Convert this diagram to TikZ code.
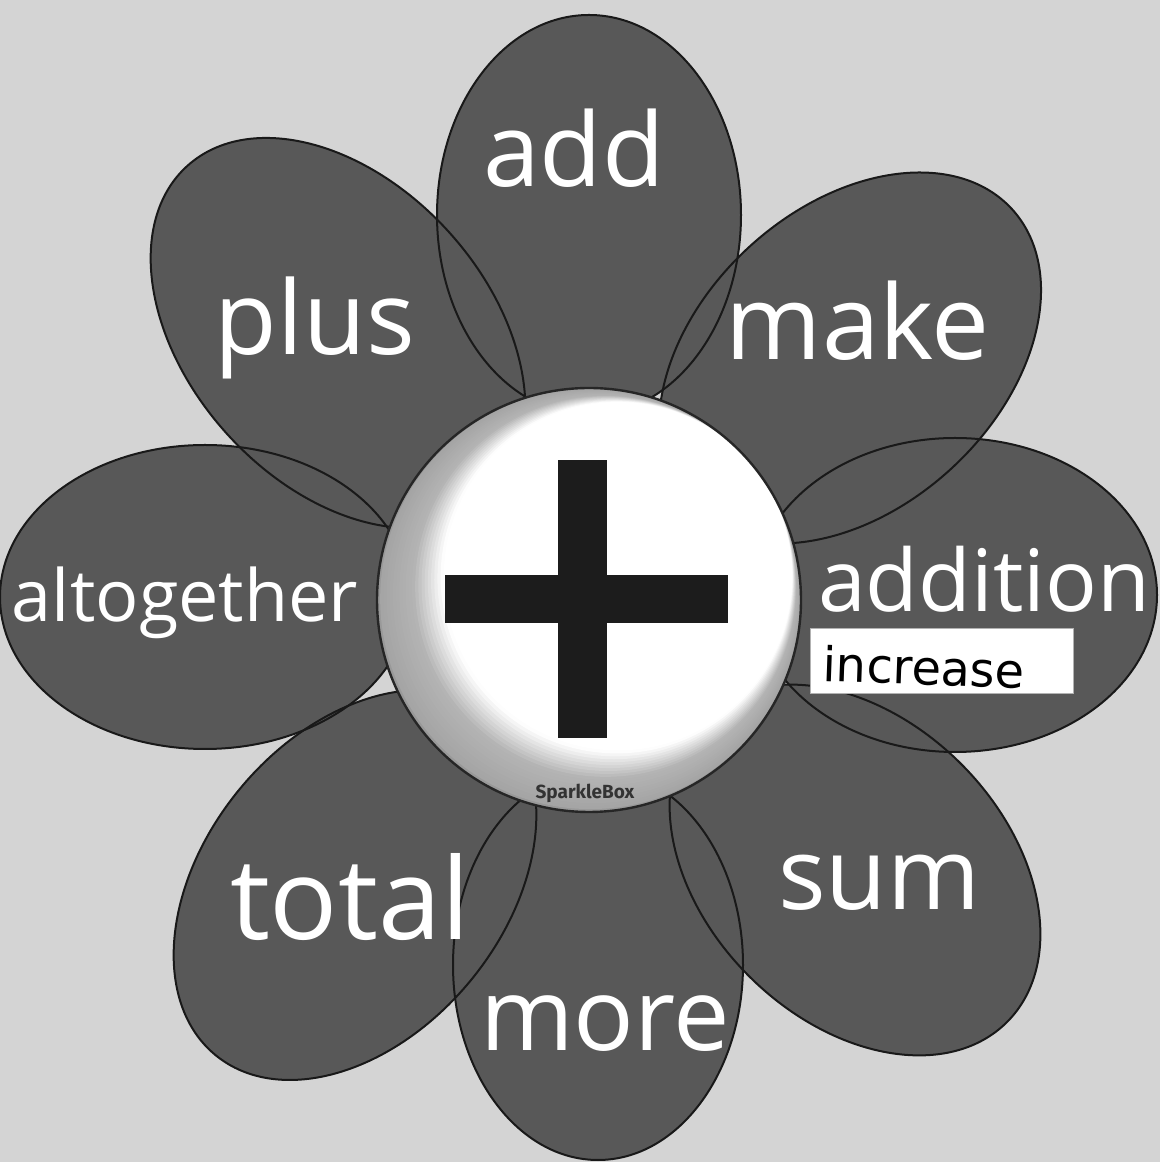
\documentclass[tikz,border=0pt]{standalone}
\usepackage{fontspec}
\setmainfont{Open Sans}
\newfontfamily\handfont{DejaVu Sans}
\newfontfamily\logofont{Fira Sans}
\definecolor{bgpaper}{HTML}{D4D4D4}
\definecolor{petalgrey}{HTML}{585858}
\definecolor{crossblack}{HTML}{1C1C1C}
\tikzset{
  petalfill/.style={fill=petalgrey},
  petaledge/.style={draw=black!90, line width=1pt},
  word/.style={text=white, anchor=base, inner sep=0pt, font=\fontsize{40}{48}\selectfont},
}
\begin{document}
\begin{tikzpicture}[x=0.5pt,y=0.5pt]
\useasboundingbox (0,0) rectangle (1160,1162);
\fill[bgpaper] (0,0) rectangle (1160,1162);
% petals: centre x / centre y / rotation / semi-axis a / semi-axis b
\def\petals{589/947/0/152/200, 598/197/0/145/195, 205/565/0/205/152, 955/567/0/202/157, 338/829/132/225/150, 850/804/42.7/220/150, 355/277/50.7/220/150, 855/292/-45/215/150}
\foreach \cx/\cy/\r/\a/\b in \petals
  \fill[petalfill, rotate around={\r:(\cx,\cy)}] (\cx,\cy) ellipse ({\a} and {\b});
\foreach \cx/\cy/\r/\a/\b in \petals
  \draw[petaledge, rotate around={\r:(\cx,\cy)}] (\cx,\cy) ellipse ({\a} and {\b});
% centre disc with stepped gradient
\node[circle, minimum size=212pt, inner sep=0pt, fill=black!40] (hub) at (589,562) {};
\begin{scope}
  \clip (589,562) circle (212);
  \foreach \i in {1,...,24} {
    \pgfmathsetmacro{\rad}{212-\i*1.8}
    \pgfmathsetmacro{\ox}{589+\i*1.38}
    \pgfmathsetmacro{\oy}{562+\i*1.13}
    \pgfmathsetmacro{\shadeval}{max(0,min(36-\i*0.6,36-max(0,\i-9)*3.2))}
    \fill[black!\shadeval] (\ox,\oy) circle (\rad);
  }
\end{scope}
\draw[black!85, line width=1.2pt] (hub.center) circle (212);
\fill[crossblack] (558,424) rectangle (607,702);
\fill[crossblack] (445,539) rectangle (728,587);
\node[text=black!80, inner sep=0pt] (logo) at (585,369) {\logofont\bfseries\fontsize{9.5}{11}\selectfont SparkleBox};
% words
\node[word] (add) at (574,975) {\resizebox{91pt}{!}{add}};
\node[word] (plus) at (315,807) {\resizebox{100pt}{!}{plus}};
\node[word] (make) at (858,802) {\resizebox{132pt}{!}{make}};
\node[word] (altogether) at (185,540) {\resizebox{173pt}{!}{altogether}};
\node[word] (addition) at (984,550) {\resizebox{166pt}{!}{addition}};
\node[word] (total) at (350,222) {\resizebox{120pt}{!}{total}};
\node[word] (more) at (605,112) {\resizebox{125pt}{!}{more}};
\node[word] (sum) at (879,252) {\resizebox{101pt}{!}{sum}};
% label strip
\node[fill=white, draw=black!30, line width=0.4pt, minimum width=131.5pt, minimum height=32.5pt, inner sep=0pt] (incbox) at (941.5,501.5) {};
\node[anchor=base west, inner sep=0pt, rotate=-2] (increase) at (822,481) {\resizebox{101pt}{!}{\handfont\fontsize{20}{24}\selectfont increase}};
\end{tikzpicture}
\end{document}
